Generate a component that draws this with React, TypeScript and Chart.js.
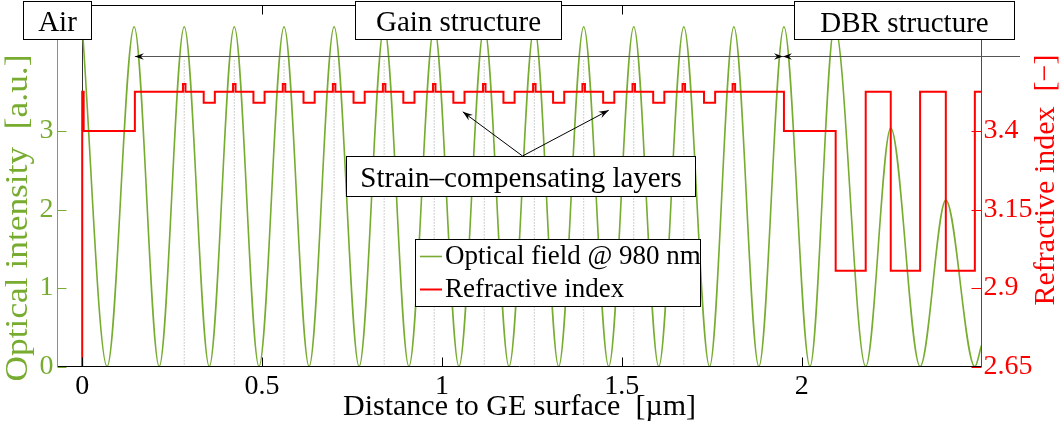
import React, { useEffect, useRef } from 'react';
import { Chart, registerables } from 'chart.js';

Chart.register(...registerables);

// ---------------- data ----------------
// Optical intensity |E|^2: positions [um] of maxima/zeros and their values
const FIELD_X = [
  0, 0.0693, 0.1444, 0.214, 0.2836, 0.3532, 0.4228, 0.4915, 0.5611, 0.6307,
  0.7003, 0.7698, 0.8394, 0.9082, 0.9786, 1.0473, 1.1177, 1.1865, 1.2569, 1.3245,
  1.3941, 1.4637, 1.5333, 1.6028, 1.6724, 1.744, 1.8116, 1.8811, 1.9508, 2.0231,
  2.0918, 2.1781, 2.2477, 2.3293, 2.4008, 2.4815, 2.5,
];
const FIELD_Y = [
  4.33, 0, 4.33, 0, 4.33, 0, 4.33, 0, 4.33, 0,
  4.33, 0, 4.33, 0, 4.33, 0, 4.33, 0, 4.33, 0,
  4.33, 0, 4.33, 0, 4.33, 0, 4.33, 0, 4.33, 0,
  4.35, 0, 3.04, 0, 2.12, 0, 0.27,
];

// Refractive index profile
const PRE_LAYER_X = [-0.069, 0, 0.004, 0.1464]; // air, cap, cladding, barrier start
const PRE_LAYER_N = [1.0, 3.525, 3.4, 3.525];
const QW_CENTERS = [0.2836, 0.4228, 0.5611, 0.7003, 0.8394, 0.9786, 1.1177, 1.2569, 1.3941, 1.5333, 1.6724, 1.8116];
const SC_CENTERS = [0.3532, 0.4915, 0.6307, 0.7698, 0.9082, 1.0473, 1.1865, 1.3245, 1.4637, 1.6028, 1.744];
const QW_WIDTH = 0.007;
const SC_WIDTH = 0.031;
const N_BARRIER = 3.525;
const N_QW = 3.55;
const N_SC = 3.49;
const DBR_LAYER_X = [1.9508, 2.0946, 2.1781, 2.2477, 2.3293, 2.4008, 2.4815, 2.5];
const DBR_LAYER_N = [3.4, 2.955, 3.525, 2.955, 3.525, 2.955, 3.525, 3.525];
const QW_MARK_TOP = 3.9;

// axes
const X_MIN = -0.0687;
const X_MAX = 2.5;
const Y_MIN = 0;
const Y_MAX = 4.6;
const Y2_MIN = 2.65;
const Y2_MAX = 3.8;
const X_TICKS = [0, 0.5, 1, 1.5, 2];
const Y_TICKS = [0, 1, 2, 3];
const Y2_TICKS = [2.65, 2.9, 3.15, 3.4];

const SERIES_FIELD = 'Optical field @ 980 nm';
const SERIES_INDEX = 'Refractive index';
const X_TITLE = 'Distance to GE surface  [\u00b5m]';
const Y_TITLE = 'Optical intensity  [a.u.]';
const Y2_TITLE = 'Refractive index  [\u2212]';
const LABEL_AIR = 'Air';
const LABEL_GAIN = 'Gain structure';
const LABEL_DBR = 'DBR structure';
const LABEL_STRAIN = 'Strain\u2013compensating layers';

// ---------------- styling ----------------
const SERIF = '"Liberation Serif", "Times New Roman", Times, serif';
const GREEN = '#77AC30';
const RED = '#FF0000';
const W = 1064;
const H = 430;
const AREA = { left: 57.5, right: 981.5, top: 5.5, bottom: 366.5 };

const fmt = (v: number) => String(Math.round(v * 1000) / 1000);

function buildIndexProfile() {
  const pts: { x: number; y: number }[] = [];
  PRE_LAYER_X.forEach((x, i) => pts.push({ x, y: PRE_LAYER_N[i] }));
  const layers = [
    ...QW_CENTERS.map((c) => ({ c, w: QW_WIDTH, n: N_QW })),
    ...SC_CENTERS.map((c) => ({ c, w: SC_WIDTH, n: N_SC })),
  ].sort((a, b) => a.c - b.c);
  layers.forEach((l) => {
    pts.push({ x: l.c - l.w / 2, y: l.n });
    pts.push({ x: l.c + l.w / 2, y: N_BARRIER });
  });
  DBR_LAYER_X.forEach((x, i) => pts.push({ x, y: DBR_LAYER_N[i] }));
  return pts;
}

function buildQwMarks() {
  const pts: { x: number; y: number | null }[] = [];
  QW_CENTERS.forEach((c) => {
    pts.push({ x: c, y: QW_MARK_TOP });
    pts.push({ x: c, y: 0 });
    pts.push({ x: c, y: null });
  });
  return pts;
}

function line(ctx: CanvasRenderingContext2D, x0: number, y0: number, x1: number, y1: number) {
  ctx.beginPath();
  ctx.moveTo(x0, y0);
  ctx.lineTo(x1, y1);
  ctx.stroke();
}

function arrowHead(ctx: CanvasRenderingContext2D, x: number, y: number, ang: number, L = 9, Wd = 3.3) {
  ctx.save();
  ctx.translate(x, y);
  ctx.rotate(ang);
  ctx.beginPath();
  ctx.moveTo(0, 0);
  ctx.lineTo(-L, Wd);
  ctx.lineTo(-L * 0.65, 0);
  ctx.lineTo(-L, -Wd);
  ctx.closePath();
  ctx.fill();
  ctx.restore();
}

function textBox(ctx: CanvasRenderingContext2D, x0: number, y0: number, x1: number, y1: number) {
  ctx.fillStyle = '#fff';
  ctx.fillRect(x0, y0, x1 - x0, y1 - y0);
  ctx.strokeStyle = '#000';
  ctx.lineWidth = 1;
  ctx.strokeRect(x0 + 0.5, y0 + 0.5, x1 - x0 - 1, y1 - y0 - 1);
}

function rotatedTitle(ctx: CanvasRenderingContext2D, text: string, cx: number, cy: number, color: string, size: number, stretch: number) {
  ctx.save();
  ctx.translate(cx, cy);
  ctx.rotate(-Math.PI / 2);
  ctx.scale(stretch, 1);
  ctx.font = `${size}px ${SERIF}`;
  ctx.textAlign = 'center';
  ctx.textBaseline = 'middle';
  ctx.fillStyle = color;
  ctx.fillText(text, 0, 0);
  ctx.restore();
}

const overlayPlugin = {
  id: 'overlay',
  beforeDatasetsDraw(chart: any) {
    const { ctx, chartArea: a, scales } = chart;
    const x0 = Math.round(scales.x.getPixelForValue(0)) + 0.5;
    ctx.save();
    ctx.strokeStyle = '#333';
    ctx.lineWidth = 1;
    line(ctx, x0, a.top, x0, a.bottom);
    ctx.restore();
  },
  afterDatasetsDraw(chart: any) {
    const { ctx, chartArea: a, scales } = chart;
    const { x, y, y2 } = scales;
    ctx.save();
    ctx.lineWidth = 1;
    // frame
    ctx.strokeStyle = '#000';
    line(ctx, a.left, a.top, a.right, a.top);
    line(ctx, a.left, a.bottom, a.right, a.bottom);
    ctx.strokeStyle = GREEN;
    line(ctx, a.left, a.top, a.left, a.bottom);
    ctx.strokeStyle = RED;
    line(ctx, a.right, a.top, a.right, a.bottom + 0.5);
    // inward ticks
    const TL = 9;
    ctx.strokeStyle = '#000';
    X_TICKS.forEach((v) => {
      const px = Math.round(x.getPixelForValue(v)) + 0.5;
      line(ctx, px, a.bottom, px, a.bottom - TL);
      line(ctx, px, a.top, px, a.top + TL);
    });
    ctx.strokeStyle = GREEN;
    Y_TICKS.forEach((v) => {
      const py = Math.round(y.getPixelForValue(v)) + 0.5;
      line(ctx, a.left, py, a.left + TL, py);
    });
    ctx.strokeStyle = RED;
    Y2_TICKS.forEach((v) => {
      const py = Math.round(y2.getPixelForValue(v)) + 0.5;
      line(ctx, a.right, py, a.right - TL - 1, py);
    });
    ctx.restore();
  },
  afterDraw(chart: any) {
    const { ctx, scales } = chart;
    const { x, y } = scales;
    ctx.save();

    // axis titles
    ctx.font = `30px ${SERIF}`;
    ctx.fillStyle = '#000';
    ctx.textAlign = 'center';
    ctx.textBaseline = 'alphabetic';
    ctx.fillText(X_TITLE, (AREA.left + AREA.right) / 2, 415);
    rotatedTitle(ctx, Y_TITLE, 19, 218, GREEN, 31, 1.14);
    rotatedTitle(ctx, Y2_TITLE, 1046, 180, RED, 30, 1.0);

    // structure arrows
    const ay = Math.round(y.getPixelForValue(3.96)) + 0.5;
    const gx0 = x.getPixelForValue(PRE_LAYER_X[3]);
    const gx1 = x.getPixelForValue(DBR_LAYER_X[0]);
    const dx1 = x.getPixelForValue(2.607);
    ctx.strokeStyle = '#555';
    ctx.lineWidth = 1.2;
    line(ctx, gx0, ay, dx1, ay);
    ctx.fillStyle = '#000';
    arrowHead(ctx, gx0, ay, Math.PI);
    arrowHead(ctx, gx1 - 1, ay, 0);
    arrowHead(ctx, gx1 - 1, ay, Math.PI);

    // strain-compensation arrows
    const ox = 522.5;
    const oy = 156;
    const tips = [
      [x.getPixelForValue(1.058), y.getPixelForValue(3.245)],
      [x.getPixelForValue(SC_CENTERS[8]), y.getPixelForValue(3.265)],
    ];
    ctx.strokeStyle = '#000';
    ctx.lineWidth = 1;
    tips.forEach(([tx, ty]) => {
      line(ctx, ox, oy, tx, ty);
      arrowHead(ctx, tx, ty, Math.atan2(ty - oy, tx - ox), 10, 3.5);
    });

    // text boxes
    ctx.font = `29px ${SERIF}`;
    ctx.textAlign = 'center';
    ctx.textBaseline = 'alphabetic';
    const boxes: [string, number, number, number, number, number][] = [
      [LABEL_AIR, 23, 1, 92, 40, 31],
      [LABEL_GAIN, 355, 1, 562, 40, 31],
      [LABEL_DBR, 794, 1, 1015, 40, 31.5],
      [LABEL_STRAIN, 346, 156, 696, 197, 187],
    ];
    boxes.forEach(([t, x0, y0, x1, y1, base]) => {
      textBox(ctx, x0, y0, x1, y1);
      ctx.fillStyle = '#000';
      ctx.fillText(t, (x0 + x1) / 2, base);
    });

    // legend
    textBox(ctx, 415, 239, 701, 307);
    ctx.font = `27px ${SERIF}`;
    ctx.textAlign = 'left';
    ctx.textBaseline = 'middle';
    const legendRows = [
      [chart.data.datasets.find((d: any) => d.label === SERIES_FIELD), 256.5],
      [chart.data.datasets.find((d: any) => d.label === SERIES_INDEX), 289.5],
    ];
    legendRows.forEach(([ds, ry]: any) => {
      ctx.strokeStyle = ds.borderColor;
      ctx.lineWidth = ds.borderWidth;
      line(ctx, 420, ry, 442, ry);
      ctx.fillStyle = '#000';
      ctx.fillText(ds.label, 445, ry);
    });

    ctx.restore();
  },
};

function makeConfig(): any {
  const tickFont = { family: SERIF, size: 28 };
  const resetPad = (s: any) => {
    s.paddingLeft = 0;
    s.paddingRight = 0;
    s.paddingTop = 0;
    s.paddingBottom = 0;
  };
  return {
    type: 'line',
    data: {
      datasets: [
        {
          label: SERIES_INDEX,
          data: buildIndexProfile(),
          yAxisID: 'y2',
          borderColor: RED,
          backgroundColor: RED,
          borderWidth: 2,
          pointRadius: 0,
          stepped: true,
          fill: false,
          order: 0,
        },
        {
          label: SERIES_FIELD,
          data: FIELD_X.map((v, i) => ({ x: v, y: FIELD_Y[i] })),
          yAxisID: 'y',
          borderColor: GREEN,
          backgroundColor: GREEN,
          borderWidth: 1.6,
          pointRadius: 0,
          cubicInterpolationMode: 'monotone',
          fill: false,
          order: 1,
        },
        {
          label: '',
          data: buildQwMarks(),
          yAxisID: 'y',
          borderColor: '#a0a0a0',
          borderWidth: 1,
          borderDash: [1, 2],
          pointRadius: 0,
          spanGaps: false,
          fill: false,
          order: 2,
        },
      ],
    },
    options: {
      animation: false,
      responsive: false,
      devicePixelRatio: 1,
      events: [],
      layout: { autoPadding: false, padding: { top: AREA.top, left: 0, right: 0, bottom: 0 } },
      plugins: { legend: { display: false }, tooltip: { enabled: false }, title: { display: false } },
      scales: {
        x: {
          type: 'linear',
          position: 'bottom',
          min: X_MIN,
          max: X_MAX,
          grid: { display: false, drawTicks: false },
          border: { display: false },
          ticks: { font: tickFont, color: '#000', padding: 3, maxRotation: 0, autoSkip: false, callback: (v: number) => fmt(v) },
          afterBuildTicks: (s: any) => {
            s.ticks = X_TICKS.map((v) => ({ value: v }));
          },
          afterFit: (s: any) => {
            s.height = H - AREA.bottom;
            resetPad(s);
          },
        },
        y: {
          type: 'linear',
          position: 'left',
          min: Y_MIN,
          max: Y_MAX,
          grid: { display: false, drawTicks: false },
          border: { display: false },
          ticks: { font: tickFont, color: GREEN, padding: 4, callback: (v: number) => fmt(v) },
          afterBuildTicks: (s: any) => {
            s.ticks = Y_TICKS.map((v) => ({ value: v }));
          },
          afterFit: (s: any) => {
            s.width = AREA.left;
            resetPad(s);
          },
        },
        y2: {
          type: 'linear',
          position: 'right',
          min: Y2_MIN,
          max: Y2_MAX,
          grid: { display: false, drawTicks: false },
          border: { display: false },
          ticks: { font: tickFont, color: RED, padding: 2, callback: (v: number) => fmt(v) },
          afterBuildTicks: (s: any) => {
            s.ticks = Y2_TICKS.map((v) => ({ value: v }));
          },
          afterFit: (s: any) => {
            s.width = W - AREA.right;
            resetPad(s);
          },
        },
      },
    },
    plugins: [overlayPlugin],
  };
}

export default function App() {
  const ref = useRef<HTMLCanvasElement>(null);
  useEffect(() => {
    document.body.style.margin = '0';
    const chart = new Chart(ref.current as HTMLCanvasElement, makeConfig());
    return () => chart.destroy();
  }, []);
  return (
    <div style={{ width: W, height: H, background: '#fff' }}>
      <canvas ref={ref} width={W} height={H} style={{ display: 'block' }} />
    </div>
  );
}
